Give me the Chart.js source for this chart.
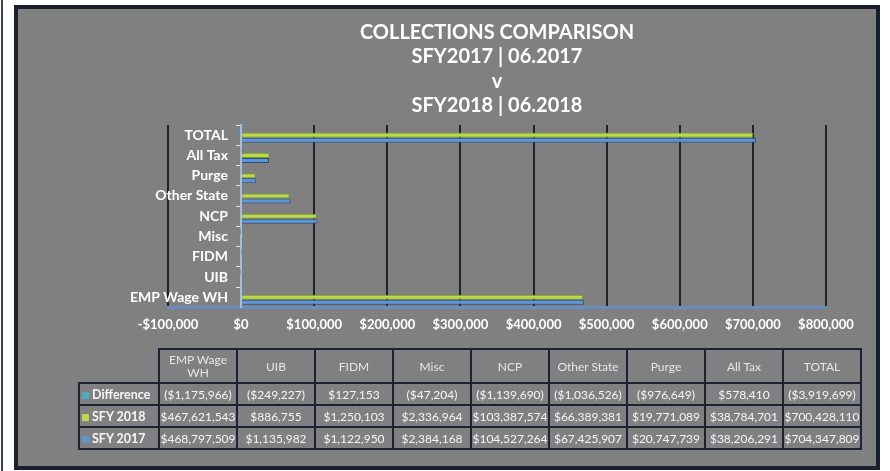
<!DOCTYPE html>
<html>
<head>
<meta charset="utf-8">
<script src="https://cdn.jsdelivr.net/npm/chart.js@4.4.1/dist/chart.umd.min.js"></script>
<style>
  html, body { margin:0; padding:0; background:#ffffff; width:890px; height:471px; overflow:hidden; }
  #leftline { position:absolute; left:1px; top:0; width:2px; height:471px; background:#3b4252; }
  #panel { position:absolute; left:14px; top:5px; width:858px; height:457px; background:#808080; border:4px solid #18202e; }
  #wrap { position:absolute; left:0; top:0; width:890px; height:352px; }
  #tbl { position:absolute; left:78px; top:348px; border-collapse:collapse; font-family:Lato, "Open Sans", sans-serif; color:#f6f6f6; table-layout:fixed; }
  #tbl td, #tbl th { border:2px solid #1b2333; text-align:center; padding:0; width:76px; overflow:hidden; white-space:nowrap; }
  #tbl th { height:32px; font-size:12px; font-weight:400; line-height:13px; color:#e6e6e6; white-space:normal; }
  #tbl th.blank { border:none; }
  #tbl td { height:20px; font-size:12px; }
  #tbl td.lab { text-align:left; font-weight:700; padding-left:2px; width:76px; font-size:12.5px; }
  .key { display:inline-block; width:7px; height:7px; margin-right:3px; vertical-align:0px; border-radius:1px; }
</style>
</head>
<body>
<div id="leftline"></div>
<div id="panel"></div>
<div id="wrap"><canvas id="c"></canvas></div>
<table id="tbl"></table>
<script>
// ---- data ----
const titleLines = ["COLLECTIONS COMPARISON", "SFY2017 | 06.2017", "v", "SFY2018 | 06.2018"];
const categories = ["EMP Wage WH", "UIB", "FIDM", "Misc", "NCP", "Other State", "Purge", "All Tax", "TOTAL"];
const headerLabels = ["EMP Wage<br>WH", "UIB", "FIDM", "Misc", "NCP", "Other State", "Purge", "All Tax", "TOTAL"];
const seriesNames = ["Difference", "SFY 2018", "SFY 2017"];
const difference = [-1175966, -249227, 127153, -47204, -1139690, -1036526, -976649, 578410, -3919699];
const sfy2018 = [467621543, 886755, 1250103, 2336964, 103387574, 66389381, 19771089, 38784701, 700428110];
const sfy2017 = [468797509, 1135982, 1122950, 2384168, 104527264, 67425907, 20747739, 38206291, 704347809];
const axisMin = -100000, axisMax = 800000, axisStep = 100000; // axis in thousands
const seriesColors = ["#4bacc6", "#bcd94e", "#5a96d6"];
const seriesBorders = ["#2f7f95", "#7b9a2a", "#2c4c7a"];

const seriesValues = [difference, sfy2018, sfy2017];
const fmtMoney = v => {
  const s = "$" + Math.abs(v).toLocaleString("en-US");
  return v < 0 ? "(" + s + ")" : s;
};

// ---- table ----
const tbl = document.getElementById("tbl");
let html = "<tr><th class='blank'></th>" + headerLabels.map(h => "<th>" + h + "</th>").join("") + "</tr>";
seriesNames.forEach((n, i) => {
  html += "<tr><td class='lab'><span class='key' style='background:" + seriesColors[i] + "'></span>" + n + "</td>" +
    seriesValues[i].map(v => "<td>" + fmtMoney(v) + "</td>").join("") + "</tr>";
});
tbl.innerHTML = html;

// ---- chart ----
const fam = "Lato, 'Open Sans', sans-serif";
new Chart(document.getElementById("c"), {
  type: "bar",
  data: {
    labels: categories,
    datasets: seriesNames.map((n, i) => ({
      label: n,
      data: seriesValues[i].map(v => v / 1000),
      backgroundColor: seriesColors[i],
      borderColor: seriesBorders[i],
      borderWidth: 1,
      categoryPercentage: 0.75,
      barPercentage: 1.0
    }))
  },
  options: {
    indexAxis: "y",
    responsive: true,
    maintainAspectRatio: false,
    animation: false,
    layout: { padding: { left: 168, right: 64, top: 6, bottom: 9 } },
    plugins: {
      legend: { display: false },
      tooltip: { enabled: false },
      title: {
        display: true,
        text: titleLines,
        color: "#ffffff",
        font: { family: fam, size: 20, weight: "bold", lineHeight: "24.5px" },
        padding: { top: 14, bottom: 7 }
      }
    },
    scales: {
      x: {
        type: "linear",
        min: axisMin, max: axisMax,
        ticks: {
          stepSize: axisStep,
          color: "#ffffff",
          font: { family: fam, size: 13, weight: "bold" },
          padding: 10,
          maxRotation: 0,
          callback: v => (v < 0 ? "-$" : "$") + Math.abs(v).toLocaleString("en-US")
        },
        grid: { color: "#1c2331", lineWidth: 2, drawTicks: false },
        border: { color: "#6b8cc0", width: 3 }
      },
      y: {
        type: "category",
        position: { x: 0 },
        reverse: true,
        ticks: { display: false },
        grid: { drawOnChartArea: false, color: "#dde4ee", tickLength: 4, offset: true },
        border: { color: "#a8bcd8", width: 2 }
      },
      yLabels: {
        type: "category",
        axis: "y",
        labels: categories,
        position: { x: -18000 },
        reverse: true,
        offset: true,
        ticks: { color: "#ffffff", font: { family: fam, size: 14, weight: "bold" } },
        grid: { display: false, drawTicks: false },
        border: { display: false }
      }
    }
  }
});
</script>
</body>
</html>
